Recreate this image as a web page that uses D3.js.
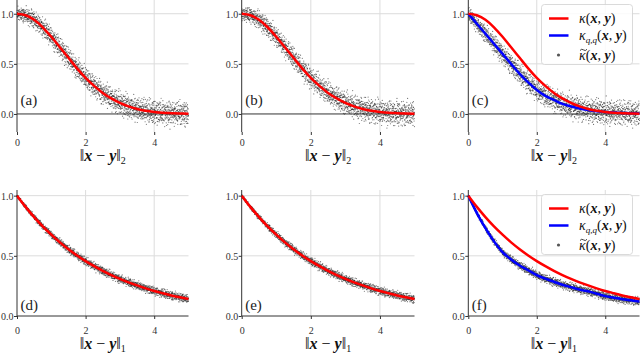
<!DOCTYPE html>
<html>
<head>
<meta charset="utf-8">
<script src="https://cdn.jsdelivr.net/npm/d3@7"></script>
</head>
<body style="margin:0">
<div id="container"></div>
<script>
// sample positions along the distance axis
var xGrid = [0, 0.25, 0.5, 0.75, 1, 1.25, 1.5, 1.75, 2, 2.25, 2.5, 2.75, 3, 3.25, 3.5, 3.75, 4, 4.25, 4.5, 4.75, 5];

// kernel values (top row: l2 distance, bottom row: l1 distance)
var kappaL2   = [1.0, 0.985, 0.94, 0.865, 0.77, 0.665, 0.56, 0.455, 0.36, 0.28, 0.21, 0.155, 0.11, 0.075, 0.05, 0.032, 0.02, 0.012, 0.008, 0.005, 0.003];
var kappaQQL2 = [1.0, 0.90, 0.80, 0.70, 0.60, 0.50, 0.40, 0.315, 0.24, 0.18, 0.14, 0.10, 0.075, 0.055, 0.04, 0.028, 0.02, 0.014, 0.01, 0.007, 0.005];
var kappaL1   = [1.0, 0.907, 0.822, 0.745, 0.676, 0.612, 0.555, 0.503, 0.456, 0.414, 0.375, 0.34, 0.308, 0.28, 0.254, 0.23, 0.208, 0.189, 0.171, 0.155, 0.141];
var kappaQQL1 = [1.0, 0.855, 0.73, 0.62, 0.53, 0.47, 0.42, 0.38, 0.34, 0.31, 0.285, 0.26, 0.24, 0.22, 0.205, 0.185, 0.165, 0.152, 0.14, 0.13, 0.12];

// spread (std) of the noisy estimates around their curve
var spreadL2 = [0.032, 0.037, 0.042, 0.045, 0.047, 0.048, 0.05, 0.05, 0.052, 0.052, 0.053, 0.054, 0.055, 0.056, 0.057, 0.058, 0.058, 0.058, 0.058, 0.058, 0.058];
var spreadL1 = [0.006, 0.009, 0.011, 0.013, 0.014, 0.015, 0.016, 0.016, 0.017, 0.017, 0.017, 0.017, 0.017, 0.017, 0.017, 0.017, 0.017, 0.017, 0.017, 0.017, 0.017];

var xTicks = [0, 2, 4],
    yTicks = [0, 0.5, 1],
    panelLabels = ["(a)", "(b)", "(c)", "(d)", "(e)", "(f)"];

function font(size, extra) {
  return "font-family:'Liberation Serif';font-size:" + size + "px;" + (extra || "");
}
var BI = "font-weight:bold;font-style:italic;";

// layout
var width = 640, height = 353;
var colX = [[17, 188.5], [241.7, 414.5], [468.3, 639.5]];
var rows = [
  { yDomain: [-0.18, 1.137], yRange: [132, 0], axisY: 132, tickY: 146, labelY: 161, panelY: 105, sub: "2", center: kappaL2, centerQQ: kappaQQL2, spread: spreadL2, n: 1900 },
  { yDomain: [0, 1.047], yRange: [316, 190], axisY: 316, tickY: 334, labelY: 349, panelY: 310, sub: "1", center: kappaL1, centerQQ: kappaQQL1, spread: spreadL1, n: 1700 }
];

function halton(i, b) {
  var f = 1, r = 0;
  while (i > 0) { f /= b; r += f * (i % b); i = Math.floor(i / b); }
  return r;
}

var svg = d3.select("#container").append("svg")
    .attr("width", width).attr("height", height)
    .attr("font-family", "Liberation Serif")
    .style("display", "block");

rows.forEach(function (row, ri) {
  var y = d3.scaleLinear().domain(row.yDomain).range(row.yRange);
  colX.forEach(function (cx, ci) {
    var idx = ri * 3 + ci;
    var x = d3.scaleLinear().domain([0, 5]).range(cx);
    var g = svg.append("g");
    var yTop = row.yRange[1], yBot = row.yRange[0];

    // grid
    g.selectAll(".vgrid").data(xTicks.slice(1)).enter().append("line")
      .attr("x1", function (d) { return x(d); }).attr("x2", function (d) { return x(d); })
      .attr("y1", yTop).attr("y2", yBot)
      .attr("stroke", "#dcdcdc").attr("stroke-width", 1);
    g.selectAll(".hgrid").data(yTicks.slice(1)).enter().append("line")
      .attr("x1", cx[0]).attr("x2", cx[1])
      .attr("y1", function (d) { return y(d); }).attr("y2", function (d) { return y(d); })
      .attr("stroke", "#dcdcdc").attr("stroke-width", 1);

    // noisy estimates
    var centerVals = (ci == 2) ? row.centerQQ : row.center;
    var centerF = d3.scaleLinear().domain(xGrid).range(centerVals);
    var spreadF = d3.scaleLinear().domain(xGrid).range(row.spread);
    var pts = d3.range(row.n).map(function (i) {
      var k = i + 1 + idx * 4000;
      var xv = 5 * halton(k, 2);
      var z = (halton(k, 3) + halton(k, 5) + halton(k, 7) - 1.5) * 2;
      return [xv, centerF(xv) + z * spreadF(xv)];
    });
    g.append("g").selectAll("circle").data(pts).enter().append("circle")
      .attr("cx", function (d) { return x(d[0]); })
      .attr("cy", function (d) { return y(d[1]); })
      .attr("r", 0.6)
      .attr("fill", "#1a1a1a")
      .attr("fill-opacity", 0.6);

    // zero line and spine
    g.append("line").attr("x1", cx[0]).attr("x2", cx[1])
      .attr("y1", y(0)).attr("y2", y(0))
      .attr("stroke", "#333").attr("stroke-width", 1);
    g.append("line").attr("x1", cx[0]).attr("x2", cx[0])
      .attr("y1", yTop).attr("y2", yBot)
      .attr("stroke", "#333").attr("stroke-width", 1);

    // curves
    var line = d3.line()
      .x(function (d) { return x(d[0]); })
      .y(function (d) { return y(d[1]); })
      .curve(d3.curveMonotoneX);
    if (ci == 2) {
      g.append("path").datum(d3.zip(xGrid, centerVals))
        .attr("d", line).attr("fill", "none")
        .attr("stroke", "#0000ff").attr("stroke-width", 2.5);
    }
    g.append("path").datum(d3.zip(xGrid, row.center))
      .attr("d", line).attr("fill", "none")
      .attr("stroke", "#ff0000").attr("stroke-width", 2.5);

    // axes
    var xa = g.append("g").attr("transform", "translate(0," + row.axisY + ")")
      .call(d3.axisBottom(x).tickValues(xTicks).tickSize(3).tickFormat(d3.format("d")));
    xa.attr("font-family", "Liberation Serif");
    xa.select(".domain").remove();
    xa.selectAll("line").attr("stroke", "#333");
    xa.selectAll("text").attr("y", row.tickY - row.axisY).attr("dy", 0)
      .attr("style", font(10)).attr("fill", "#333");

    var ya = g.append("g").attr("transform", "translate(" + cx[0] + ",0)")
      .call(d3.axisLeft(y).tickValues(yTicks).tickSize(3).tickFormat(d3.format(".1f")));
    ya.attr("font-family", "Liberation Serif");
    ya.select(".domain").remove();
    ya.selectAll("line").attr("stroke", "#333");
    ya.selectAll("text").attr("x", -3.5).attr("dy", "0.35em")
      .attr("style", font(10)).attr("fill", "#333");

    // panel label
    g.append("text").attr("x", cx[0] + 3.5).attr("y", row.panelY)
      .attr("style", font(15)).attr("fill", "#222").text(panelLabels[idx]);

    // x label ‖x − y‖
    var lab = g.append("text").attr("x", (cx[0] + cx[1]) / 2).attr("y", row.labelY)
      .attr("text-anchor", "middle")
      .attr("style", font(16)).attr("fill", "#111");
    lab.append("tspan").text("\u2016");
    lab.append("tspan").attr("style", font(16, BI)).text("x");
    lab.append("tspan").text(" \u2212 ");
    lab.append("tspan").attr("style", font(16, BI)).text("y");
    lab.append("tspan").text("\u2016");
    lab.append("tspan").attr("style", font(10)).attr("dy", 3).text(row.sub);

    // legend
    if (ci == 2) {
      var lg = g.append("g").attr("transform", "translate(541.5," + (yTop + 4.5) + ")");
      lg.append("rect").attr("width", 91).attr("height", 60).attr("rx", 3)
        .attr("fill", "#fff").attr("fill-opacity", 0.85)
        .attr("stroke", "#d0d0d0").attr("stroke-width", 0.8);
      var entries = [
        { kind: "line", color: "#ff0000", sub: null, tilde: false, yy: 14 },
        { kind: "line", color: "#0000ff", sub: "q,q", tilde: false, yy: 31 },
        { kind: "dot", color: "#555", sub: null, tilde: true, yy: 50.5 }
      ];
      entries.forEach(function (e) {
        if (e.kind == "line") {
          lg.append("line").attr("x1", 7.5).attr("x2", 27).attr("y1", e.yy).attr("y2", e.yy)
            .attr("stroke", e.color).attr("stroke-width", 2.5);
        } else {
          lg.append("circle").attr("cx", 17).attr("cy", e.yy).attr("r", 1.6).attr("fill", e.color);
        }
        var t = lg.append("text").attr("x", 37.5).attr("y", e.yy + 4.5)
          .attr("style", font(14)).attr("fill", "#111");
        t.append("tspan").attr("style", font(14, "font-style:italic;")).text("\u03BA");
        if (e.sub) {
          t.append("tspan").attr("style", font(9, "font-style:italic;")).attr("dy", 3).text(e.sub);
          t.append("tspan").attr("dy", -3).text("(");
        } else {
          t.append("tspan").text("(");
        }
        t.append("tspan").attr("style", font(14, BI)).text("x");
        t.append("tspan").text(", ");
        t.append("tspan").attr("style", font(14, BI)).text("y");
        t.append("tspan").text(")");
        if (e.tilde) {
          // wide tilde over kappa
          lg.append("path")
            .attr("d", "M38.5," + (e.yy - 4.5) + " q1.6,-2.2 3.5,-0.6 t3.5,-0.6")
            .attr("fill", "none").attr("stroke", "#111").attr("stroke-width", 0.8);
        }
      });
    }
  });
});
</script>
</body>
</html>
